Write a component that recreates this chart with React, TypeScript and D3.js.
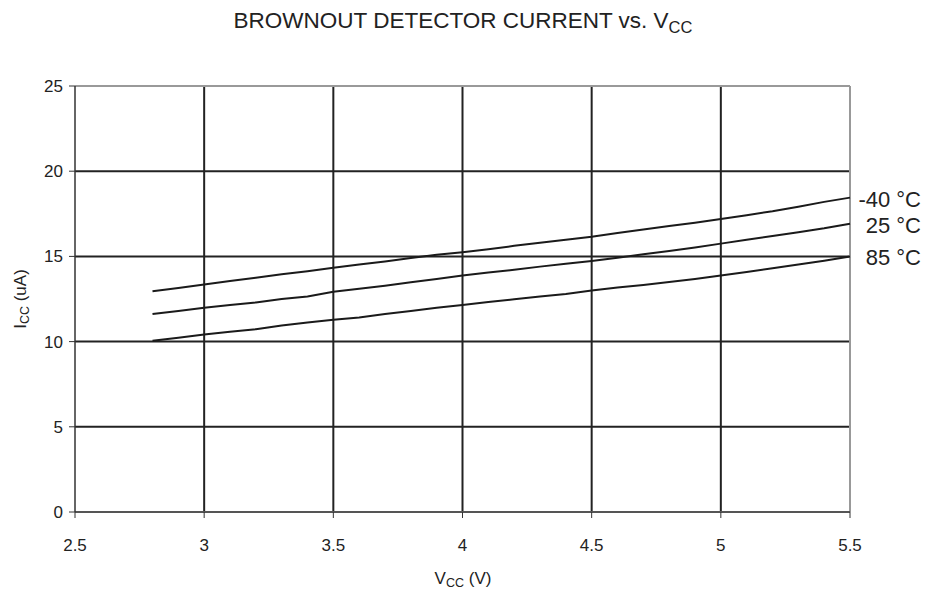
import React from "react";
import * as d3 from "d3";

const vcc = [2.8, 2.9, 3.0, 3.1, 3.2, 3.3, 3.4, 3.5, 3.6, 3.7, 3.8, 3.9, 4.0, 4.1, 4.2, 4.3, 4.4, 4.5, 4.6, 4.7, 4.8, 4.9, 5.0, 5.1, 5.2, 5.3, 5.4, 5.5];
const iccMinus40 = [12.95, 13.15, 13.35, 13.55, 13.75, 13.95, 14.13, 14.33, 14.52, 14.7, 14.9, 15.1, 15.25, 15.42, 15.62, 15.8, 15.98, 16.15, 16.37, 16.58, 16.78, 16.98, 17.2, 17.42, 17.65, 17.92, 18.2, 18.45];
const icc25 = [11.62, 11.8, 11.98, 12.15, 12.3, 12.5, 12.65, 12.93, 13.1, 13.28, 13.48, 13.68, 13.88, 14.05, 14.22, 14.4, 14.57, 14.73, 14.92, 15.12, 15.32, 15.52, 15.75, 15.98, 16.2, 16.42, 16.65, 16.92];
const icc85 = [10.05, 10.23, 10.42, 10.58, 10.73, 10.95, 11.12, 11.28, 11.42, 11.62, 11.8, 11.98, 12.15, 12.32, 12.48, 12.65, 12.8, 13.0, 13.17, 13.32, 13.5, 13.68, 13.88, 14.08, 14.3, 14.52, 14.75, 15.0];
const seriesNames = ["-40 °C", "25 °C", "85 °C"];
const xTicks = [2.5, 3, 3.5, 4, 4.5, 5, 5.5];
const yTicks = [0, 5, 10, 15, 20, 25];

const W = 926, H = 591;
const L = 75, R = 850, T = 86, B = 512;
const FONT = "'Liberation Sans', Arial, sans-serif";

export default function App() {
  const x = d3.scaleLinear().domain([2.5, 5.5]).range([L, R]);
  const y = d3.scaleLinear().domain([0, 25]).range([B, T]);
  const line = d3.line<[number, number]>().x(d => x(d[0])).y(d => y(d[1]));
  const series = [iccMinus40, icc25, icc85];
  return (
    <svg width={W} height={H} style={{ position: "absolute", left: 0, top: 0, background: "#fff" }} fontFamily={FONT}>
      <text x={463} y={28} textAnchor="middle" fontSize={22.5} fill="#222">
        BROWNOUT DETECTOR CURRENT vs. V<tspan fontSize={16.5} dy={5}>CC</tspan>
      </text>
      {/* horizontal gridlines */}
      {yTicks.filter(t => t > 0 && t < 25).map(t => (
        <line key={"h" + t} x1={L} x2={R} y1={y(t)} y2={y(t)} stroke="#222" strokeWidth={2} />
      ))}
      {/* vertical gridlines */}
      {xTicks.filter(t => t > 2.5 && t < 5.5).map(t => (
        <line key={"v" + t} x1={x(t)} x2={x(t)} y1={T} y2={B} stroke="#222" strokeWidth={2} />
      ))}
      {/* border */}
      <line x1={L} x2={R} y1={T} y2={T} stroke="#999" strokeWidth={2} />
      <line x1={R} x2={R} y1={T} y2={B} stroke="#999" strokeWidth={2} />
      <line x1={L} x2={R} y1={B} y2={B} stroke="#555" strokeWidth={2} />
      <line x1={L} x2={L} y1={T} y2={B} stroke="#333" strokeWidth={1.5} />
      {/* ticks */}
      {yTicks.map(t => (
        <g key={"yt" + t}>
          <line x1={L - 6} x2={L} y1={y(t)} y2={y(t)} stroke="#333" strokeWidth={1} />
          <text x={L - 12} y={y(t) + 6} textAnchor="end" fontSize={17} fill="#222">{t}</text>
        </g>
      ))}
      {xTicks.map(t => (
        <g key={"xt" + t}>
          <line x1={x(t)} x2={x(t)} y1={B} y2={B + 6} stroke="#333" strokeWidth={1} />
          <text x={x(t)} y={551} textAnchor="middle" fontSize={17} fill="#222">{t}</text>
        </g>
      ))}
      {/* axis labels */}
      <text x={463} y={584} textAnchor="middle" fontSize={17} fill="#222">
        V<tspan fontSize={12.5} dy={3}>CC</tspan><tspan dy={-3}> (V)</tspan>
      </text>
      <text transform={`translate(26, ${y(12.5)}) rotate(-90)`} textAnchor="middle" fontSize={17} fill="#222">
        I<tspan fontSize={12.5} dy={3}>CC</tspan><tspan dy={-3}> (uA)</tspan>
      </text>
      {/* series */}
      {series.map((s, i) => (
        <path key={"s" + i} d={line(vcc.map((v, j) => [v, s[j]]) as [number, number][]) || ""} fill="none" stroke="#1a1a1a" strokeWidth={2} />
      ))}
      {series.map((s, i) => (
        <text key={"l" + i} x={921} y={y(s[s.length - 1]) + 9} textAnchor="end" fontSize={22} fill="#222">{seriesNames[i]}</text>
      ))}
    </svg>
  );
}
